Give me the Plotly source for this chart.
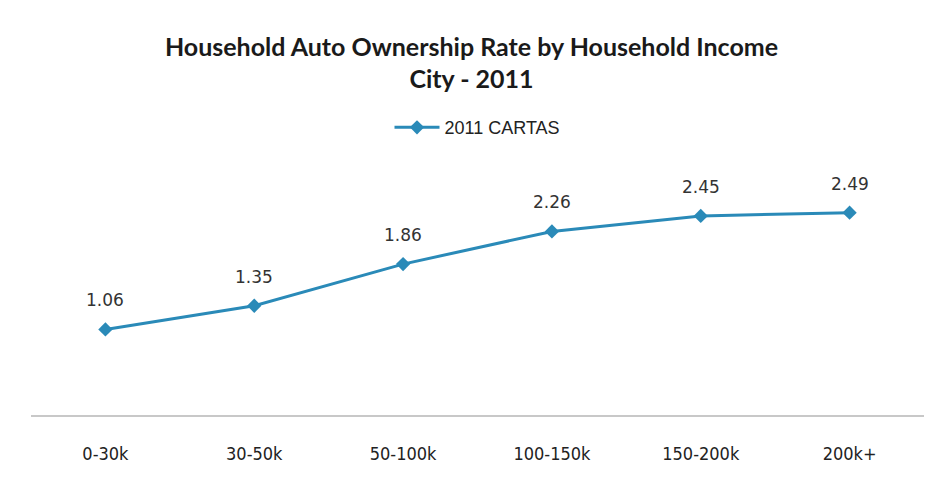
import plotly.graph_objects as go

categories = ["0-30k", "30-50k", "50-100k", "100-150k", "150-200k", "200k+"]
values = [1.06, 1.35, 1.86, 2.26, 2.45, 2.49]
value_labels = ["1.06", "1.35", "1.86", "2.26", "2.45", "2.49"]
series_name = "2011 CARTAS"

line_color = "#2a8ab8"

fig = go.Figure()
fig.add_trace(go.Scatter(
    x=categories, y=values, mode="lines+markers", name=series_name,
    line=dict(color=line_color, width=3),
    marker=dict(symbol="diamond", size=11, color=line_color),
    hoverinfo="x+y",
))

for c, v, t in zip(categories, values, value_labels):
    fig.add_annotation(x=c, y=v, text=t, showarrow=False, yshift=29,
                       font=dict(family="DejaVu Sans, Arial", size=17, color="#333333"))

fig.update_layout(
    width=927, height=479,
    paper_bgcolor="white", plot_bgcolor="white",
    margin=dict(l=23, r=11, t=163, b=71),
    title=dict(text="<b>Household Auto Ownership Rate by Household Income<br>City - 2011</b>",
               x=0.5, xanchor="center", y=0.90, yanchor="top",
               font=dict(family="Lato, Open Sans, sans-serif", size=25, color="#1a1a1a")),
    showlegend=True,
    legend=dict(orientation="h", x=0.5, xanchor="center", y=1.177, yanchor="middle",
                itemwidth=45,
                font=dict(family="Liberation Sans, Arial", size=18, color="#222222"),
                bgcolor="rgba(0,0,0,0)"),
    xaxis=dict(type="category", range=[-0.5, 5.5], showgrid=False, zeroline=False,
               showline=False, ticks="", ticklabelstandoff=25,
               tickfont=dict(family="DejaVu Sans Condensed, Lato, sans-serif", size=18, color="#222222")),
    yaxis=dict(range=[0, 3], showgrid=False, zeroline=True, zerolinecolor="#c8c8c8",
               zerolinewidth=2, showticklabels=False, showline=False, ticks=""),
)

fig.write_html("out.html")
